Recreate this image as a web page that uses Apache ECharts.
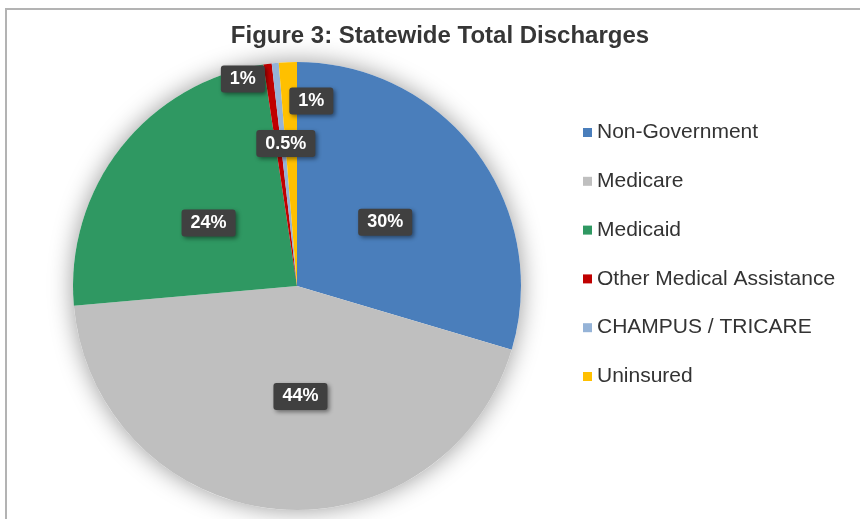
<!DOCTYPE html>
<html>
<head>
<meta charset="utf-8">
<script src="https://cdn.jsdelivr.net/npm/echarts@6/dist/echarts.min.js"></script>
<style>
  html, body { margin: 0; padding: 0; background: #ffffff; }
  #wrap { position: relative; width: 860px; height: 519px; overflow: hidden; }
  #frame { position: absolute; left: 5px; top: 8px; right: -4px; bottom: -4px;
           border-top: 2px solid #b3b3b3; border-left: 2px solid #b3b3b3; }
  #chart { position: absolute; left: 0; top: 0; width: 860px; height: 519px; }
</style>
</head>
<body>
<div id="wrap">
  <div id="frame"></div>
  <div id="chart"></div>
</div>
<script>
// Share of statewide total discharges by payer (percent)
const payers = ['Non-Government', 'Medicare', 'Medicaid', 'Other Medical Assistance', 'CHAMPUS / TRICARE', 'Uninsured'];
const shares = [29.6, 44.0, 24.0, 0.6, 0.5, 1.3];
const colors = ['#4a7ebb', '#bfbfbf', '#2f9862', '#c00000', '#95b3d7', '#ffc000'];
// Pixel nudges for the data callouts (the thin slices get pulled out above the pie centre)
const labelOffsets = [[-4, 5], [15, -4], [2, 8], [-39, -93], [0, -28], [19, -70]];

const chart = echarts.init(document.getElementById('chart'), null, { renderer: 'canvas' });

const labelBox = {
  show: true,
  position: 'inside',
  color: '#ffffff',
  fontFamily: 'Liberation Sans, Arial, sans-serif',
  fontWeight: 'bold',
  fontSize: 18,
  backgroundColor: '#404040',
  borderRadius: 3,
  padding: [5, 9, 4, 9],
  shadowColor: 'rgba(0,0,0,0.45)',
  shadowBlur: 4,
  shadowOffsetX: 2,
  shadowOffsetY: 2,
  formatter: p => (p.value < 0.55 ? p.value.toFixed(1) : Math.round(p.value)) + '%'
};

const center = [297, 286];
const radius = 224;

chart.setOption({
  animation: false,
  title: {
    text: 'Figure 3: Statewide Total Discharges',
    left: 435,
    top: 19,
    textAlign: 'center',
    textStyle: {
      fontFamily: 'Liberation Sans, Arial, sans-serif',
      fontWeight: 'bold',
      fontSize: 24,
      color: '#363636'
    }
  },
  legend: {
    orient: 'vertical',
    left: 578,
    top: 117,
    itemWidth: 9,
    itemHeight: 9,
    itemGap: 27.8,
    icon: 'rect',
    data: payers,
    textStyle: {
      fontFamily: 'Liberation Sans, Arial, sans-serif',
      fontSize: 21,
      lineHeight: 20,
      color: '#333333'
    }
  },
  series: [
    {
      // soft drop shadow behind the whole pie
      type: 'pie',
      silent: true,
      z: 1,
      center: center,
      radius: radius,
      label: { show: false },
      labelLine: { show: false },
      legendHoverLink: false,
      data: [{ value: 1, name: '', itemStyle: { color: '#ffffff', shadowBlur: 24, shadowColor: 'rgba(0,0,0,0.4)' } }]
    },
    {
      type: 'pie',
      z: 2,
      center: center,
      radius: radius,
      startAngle: 90,
      clockwise: true,
      avoidLabelOverlap: false,
      itemStyle: { borderWidth: 0 },
      labelLine: { show: false },
      label: labelBox,
      data: payers.map((name, i) => ({
        name: name,
        value: shares[i],
        itemStyle: { color: colors[i] },
        label: { offset: labelOffsets[i] }
      }))
    }
  ]
});
</script>
</body>
</html>
